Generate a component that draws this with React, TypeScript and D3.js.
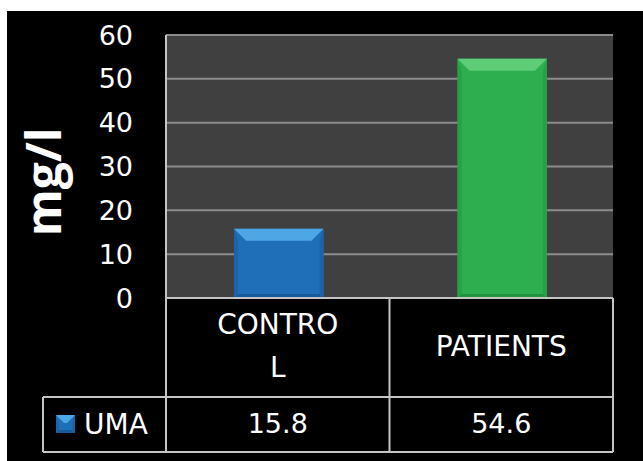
import * as d3 from "d3";

const WIDTH = 643;
const HEIGHT = 461;

const categories = ["CONTROL", "PATIENTS"];
const headerLines = [["CONTRO", "L"], ["PATIENTS"]];
const seriesName = "UMA";
const values = [15.8, 54.6];
const valueLabels = ["15.8", "54.6"];
const yTicks = [0, 10, 20, 30, 40, 50, 60];

const palettes = [
  { main: "#1f6fb8", top: "#4da7e4", side: "#1c64a8", bottom: "#185a99" },
  { main: "#2daf4f", top: "#5fcc77", side: "#27a046", bottom: "#21913e" },
];

const FONT = "'DejaVu Sans', sans-serif";
const TITLE_FONT = "'Open Sans', sans-serif";
const LINE = "#c4c4c4";

// plot frame
const left = 166;
const right = 613;
const top = 35;
const base = 298;
const row1 = 397;
const row2 = 452;
const legendLeft = 43;

function bevelParts(x0: number, x1: number, y0: number, y1: number, b: number, s: number) {
  const pts = (arr: number[][]) => arr.map((p) => p.join(",")).join(" ");
  return {
    topP: pts([[x0, y0], [x1, y0], [x1 - b, y0 + b], [x0 + b, y0 + b]]),
    leftP: pts([[x0, y0], [x0 + s, y0 + b], [x0 + s, y1 - s], [x0, y1]]),
    rightP: pts([[x1, y0], [x1 - s, y0 + b], [x1 - s, y1 - s], [x1, y1]]),
    bottomP: pts([[x0, y1], [x0 + s, y1 - s], [x1 - s, y1 - s], [x1, y1]]),
  };
}

function BevelBar({ x0, x1, y0, y1, pal, b, s }: any) {
  const p = bevelParts(x0, x1, y0, y1, b, s);
  return (
    <g>
      <rect x={x0} y={y0} width={x1 - x0} height={y1 - y0} fill={pal.main} />
      <polygon points={p.leftP} fill={pal.side} />
      <polygon points={p.rightP} fill={pal.side} />
      <polygon points={p.bottomP} fill={pal.bottom} />
      <polygon points={p.topP} fill={pal.top} />
    </g>
  );
}

export default function App() {
  const y = d3.scaleLinear().domain([0, 60]).range([base, top]);
  const col = d3.scaleBand<string>().domain(categories).range([left, right]).padding(0);
  const barW = col.bandwidth() * 0.4;

  return (
    <svg
      width={WIDTH}
      height={HEIGHT}
      style={{ position: "absolute", left: 0, top: 0 }}
      fontFamily={FONT}
    >
      <rect x={0} y={0} width={WIDTH} height={HEIGHT} fill="#ffffff" />
      <rect x={7} y={11} width={WIDTH - 7} height={HEIGHT - 11} fill="#000000" />

      {/* plot background */}
      <rect x={left} y={top} width={right - left} height={base - top} fill="#404040" />

      {/* gridlines */}
      {yTicks
        .filter((t) => t > 0)
        .map((t) => (
          <line
            key={t}
            x1={left}
            x2={right}
            y1={y(t)}
            y2={y(t)}
            stroke="#8c8c8c"
            strokeWidth={2}
          />
        ))}

      {/* tick labels */}
      {yTicks.map((t) => (
        <text
          key={t}
          x={133}
          y={y(t) + 2}
          textAnchor="end"
          dominantBaseline="middle"
          fill="#ffffff"
          fontSize={27}
        >
          {t}
        </text>
      ))}

      {/* axis title */}
      <text
        transform={`translate(61, 182) rotate(-90)`}
        textAnchor="middle"
        fill="#ffffff"
        fontSize={48}
        fontWeight="bold"
        fontFamily={TITLE_FONT}
      >
        mg/l
      </text>

      {/* bars */}
      {categories.map((c, i) => {
        const cx = (col(c) as number) + col.bandwidth() / 2;
        return (
          <BevelBar
            key={c}
            x0={cx - barW / 2 + 1}
            x1={cx + barW / 2 + 1}
            y0={y(values[i])}
            y1={base}
            pal={palettes[i]}
            b={12}
            s={4}
          />
        );
      })}

      {/* data table */}
      <g stroke={LINE} strokeWidth={2} fill="none">
        <line x1={left} x2={right} y1={base} y2={base} />
        <line x1={left} x2={left} y1={top} y2={row2} />
        {categories.slice(1).map((c) => (
          <line key={c} x1={col(c)} x2={col(c)} y1={base} y2={row2} />
        ))}
        <line x1={right} x2={right} y1={base} y2={row2} />
        <line x1={legendLeft} x2={right} y1={row1} y2={row1} />
        <line x1={legendLeft} x2={right} y1={row2} y2={row2} />
        <line x1={legendLeft} x2={legendLeft} y1={row1} y2={row2} />
      </g>

      {categories.map((c, i) => {
        const cx = (col(c) as number) + col.bandwidth() / 2;
        const lines = headerLines[i];
        const mid = (base + row1) / 2;
        const lh = 43;
        return (
          <g key={c}>
            {lines.map((l, j) => (
              <text
                key={j}
                x={cx}
                y={mid + (j - (lines.length - 1) / 2) * lh}
                textAnchor="middle"
                dominantBaseline="middle"
                fill="#ffffff"
                fontSize={28}
              >
                {l}
              </text>
            ))}
            <text
              x={cx}
              y={(row1 + row2) / 2 + 1}
              textAnchor="middle"
              dominantBaseline="middle"
              fill="#ffffff"
              fontSize={27}
            >
              {valueLabels[i]}
            </text>
          </g>
        );
      })}

      {/* legend key */}
      <BevelBar x0={56} x1={75} y0={415} y1={433} pal={palettes[0]} b={8} s={3} />
      <text
        x={84}
        y={(row1 + row2) / 2 + 1}
        dominantBaseline="middle"
        fill="#ffffff"
        fontSize={28}
      >
        {seriesName}
      </text>
    </svg>
  );
}
